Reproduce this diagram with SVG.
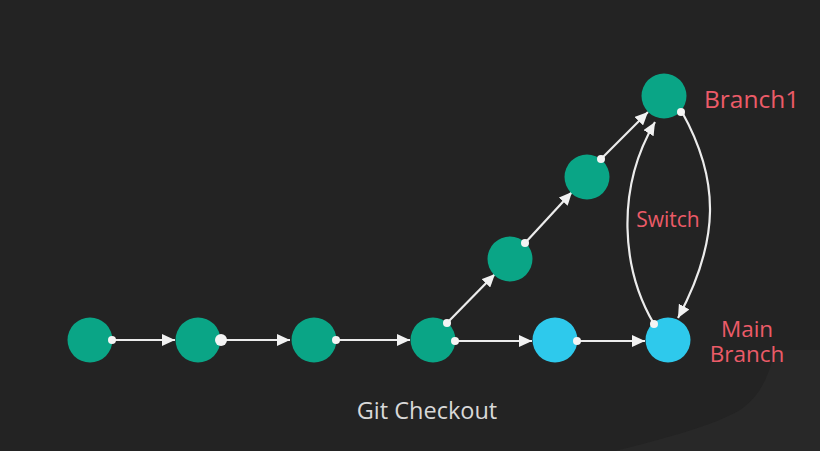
<svg xmlns="http://www.w3.org/2000/svg" width="820" height="451" viewBox="0 0 820 451">
<defs>
<marker id="ah" viewBox="0 0 13 12" refX="13" refY="6" markerWidth="13" markerHeight="12" markerUnits="userSpaceOnUse" orient="auto">
<path d="M0,0 L13,6 L0,12 Z" fill="#f2f2f2"/>
</marker>
</defs>
<style>
.g{fill:#0aa586}
.b{fill:#2ec9ec}
.d{fill:#f4f4f4}
.c{stroke:#ececec;stroke-width:2.2;fill:none;marker-end:url(#ah)}
.lbl{font-family:"Open Sans","Noto Sans",sans-serif;fill:#ec5b68;font-weight:500}
.t{font-family:"Open Sans","Noto Sans",sans-serif;fill:#d8d8d8;font-weight:500}
</style>
<rect width="820" height="451" fill="#232323"/>
<path d="M775,350 C768,380 758,398 740,410 C712,426 670,437 615,451 L820,451 L820,350 Z" fill="#282828"/>
<g id="connectors">
<line class="c" x1="112" y1="340" x2="175" y2="340"/>
<line class="c" x1="221" y1="340" x2="290" y2="340"/>
<line class="c" x1="336" y1="340" x2="410" y2="340"/>
<line class="c" x1="455" y1="341" x2="532" y2="341"/>
<line class="c" x1="577" y1="341" x2="645" y2="341"/>
<line class="c" x1="447" y1="323" x2="495" y2="274"/>
<line class="c" x1="525" y1="243" x2="572" y2="192"/>
<line class="c" x1="601" y1="159" x2="648" y2="112"/>
<path class="c" d="M654,324 C622,270 615,190 655,122"/>
<path class="c" d="M682,112 C720,180 720,240 678,318"/>
</g>
<g id="n1"><circle class="g" cx="90" cy="340" r="22.5"/><circle class="d" cx="112" cy="340" r="4"/></g>
<g id="n2"><circle class="g" cx="198" cy="340" r="22.5"/><circle class="d" cx="221" cy="340" r="6"/></g>
<g id="n3"><circle class="g" cx="314" cy="340" r="22.5"/><circle class="d" cx="336" cy="340" r="4"/></g>
<g id="n4"><circle class="g" cx="433" cy="340" r="22.5"/><circle class="d" cx="455" cy="341" r="4"/><circle class="d" cx="447" cy="323" r="4"/></g>
<g id="n5"><circle class="b" cx="555" cy="340" r="22.5"/><circle class="d" cx="577" cy="341" r="4"/></g>
<g id="b1"><circle class="g" cx="510" cy="259" r="22.5"/><circle class="d" cx="525" cy="243" r="4"/></g>
<g id="b2"><circle class="g" cx="587" cy="177" r="22.5"/><circle class="d" cx="601" cy="159" r="4"/></g>
<g id="branch1"><circle class="g" cx="664" cy="96" r="22.5"/><circle class="d" cx="681" cy="112" r="4"/>
<text class="lbl" x="704" y="108" font-size="24.5">Branch1</text></g>
<g id="main"><circle class="b" cx="668" cy="340" r="22.5"/><circle class="d" cx="654" cy="324" r="4"/>
<text class="lbl" x="747" y="337" font-size="22.5" text-anchor="middle">Main</text>
<text class="lbl" x="747" y="362" font-size="22.5" text-anchor="middle">Branch</text></g>
<text class="lbl" x="668" y="227" font-size="21" text-anchor="middle">Switch</text>
<text class="t" x="427" y="419" font-size="23.5" text-anchor="middle">Git Checkout</text>
</svg>
